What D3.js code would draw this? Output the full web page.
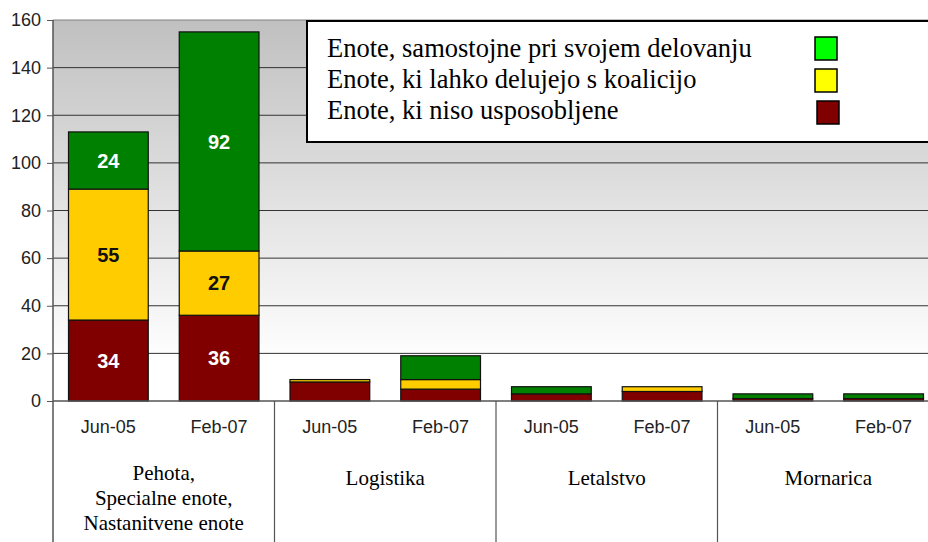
<!DOCTYPE html>
<html>
<head>
<meta charset="utf-8">
<script src="https://cdn.jsdelivr.net/npm/d3@7"></script>
<style>
  body { margin: 0; background: #fff; }
  svg { display: block; }
</style>
</head>
<body>
<div id="chart"></div>
<script>
// data
var groups = ["Pehota,|Specialne enote,|Nastanitvene enote", "Logistika", "Letalstvo", "Mornarica"];
var periods = ["Jun-05", "Feb-07"];
var seriesNames = ["Enote, ki niso usposobljene", "Enote, ki lahko delujejo s koalicijo", "Enote, samostojne pri svojem delovanju"];
// order: group x period
var notReady = [34, 36, 8, 5, 3, 4, 1, 1];
var coalition = [55, 27, 1, 4, 0, 2, 0, 0];
var selfSufficient = [24, 92, 0, 10, 3, 0, 2, 2];
var yTicks = [0, 20, 40, 60, 80, 100, 120, 140, 160];

var barColors = ["#800000", "#ffcc00", "#008000"];
var swatchColors = ["#800000", "#ffff00", "#00ff00"];

var width = 928, height = 542;
var plotLeft = 53, plotRight = 939, plotTop = 20, plotBottom = 401;

var svg = d3.select("#chart").append("svg")
    .attr("width", width)
    .attr("height", height);

var defs = svg.append("defs");
var grad = defs.append("linearGradient")
    .attr("id", "bg")
    .attr("x1", 0).attr("y1", 0).attr("x2", 0).attr("y2", 1);
grad.append("stop").attr("offset", "0%").attr("stop-color", "#c0c0c0");
grad.append("stop").attr("offset", "90%").attr("stop-color", "#ffffff");
grad.append("stop").attr("offset", "100%").attr("stop-color", "#ffffff");

var x0 = d3.scaleBand().domain(groups).range([plotLeft, plotRight]);
var x1 = d3.scaleBand().domain(periods).range([0, x0.bandwidth()])
    .paddingInner(0.28).paddingOuter(0.14);
var y = d3.scaleLinear().domain([0, 160]).range([plotBottom, plotTop]);

// plot background
svg.append("rect")
    .attr("x", plotLeft).attr("y", plotTop)
    .attr("width", plotRight - plotLeft).attr("height", plotBottom - plotTop)
    .attr("fill", "url(#bg)");

// gridlines
svg.append("g")
    .selectAll("line")
    .data(yTicks.slice(1))
    .enter().append("line")
    .attr("x1", plotLeft).attr("x2", plotRight)
    .attr("y1", d => y(d)).attr("y2", d => y(d))
    .attr("stroke", d => d == 160 ? "#808080" : "#333")
    .attr("stroke-width", 1);

// stacked bars
var rows = [];
groups.forEach(function(g, gi) {
    periods.forEach(function(p, pi) {
        var i = gi * 2 + pi;
        rows.push({group: g, period: p, vals: [notReady[i], coalition[i], selfSufficient[i]]});
    });
});

var barG = svg.append("g");
rows.forEach(function(r) {
    var bx = x0(r.group) + x1(r.period);
    var base = 0;
    r.vals.forEach(function(v, si) {
        if (v > 0) {
            barG.append("rect")
                .attr("x", bx)
                .attr("y", y(base + v))
                .attr("width", x1.bandwidth())
                .attr("height", y(base) - y(base + v))
                .attr("fill", barColors[si])
                .attr("stroke", "#111")
                .attr("stroke-width", 1.2);
            if (v >= 20) {
                barG.append("text")
                    .attr("x", bx + x1.bandwidth() / 2)
                    .attr("y", y(base + v / 2))
                    .attr("dy", "0.36em")
                    .attr("text-anchor", "middle")
                    .style("font-family", "Arial, Helvetica, sans-serif")
                    .style("font-weight", "bold")
                    .style("font-size", "20px")
                    .attr("fill", si == 1 ? "#111" : "#fff")
                    .text(v);
            }
        }
        base += v;
    });
});

// x axis line
svg.append("line")
    .attr("x1", plotLeft).attr("x2", plotRight)
    .attr("y1", plotBottom).attr("y2", plotBottom)
    .attr("stroke", "#555").attr("stroke-width", 1.5);

// y axis
var yAxis = svg.append("g")
    .attr("transform", "translate(" + plotLeft + ",0)")
    .call(d3.axisLeft(y).tickValues(yTicks).tickSize(6).tickSizeOuter(0).tickPadding(6));
yAxis.select(".domain").remove();
yAxis.selectAll(".tick line").attr("stroke", "#555");
yAxis.selectAll("text")
    .style("font-family", "Arial, Helvetica, sans-serif")
    .style("font-size", "18px")
    .attr("fill", "#222");

svg.append("line")
    .attr("x1", plotLeft).attr("x2", plotLeft)
    .attr("y1", plotTop).attr("y2", height)
    .attr("stroke", "#555").attr("stroke-width", 1.5);

// group dividers below axis
svg.append("g")
    .selectAll("line")
    .data(groups.slice(1))
    .enter().append("line")
    .attr("x1", d => x0(d)).attr("x2", d => x0(d))
    .attr("y1", plotBottom).attr("y2", height)
    .attr("stroke", "#555").attr("stroke-width", 1.2);

// period labels
rows.forEach(function(r) {
    svg.append("text")
        .attr("x", x0(r.group) + x1(r.period) + x1.bandwidth() / 2)
        .attr("y", 433)
        .attr("text-anchor", "middle")
        .style("font-family", "Arial, Helvetica, sans-serif")
        .style("font-size", "18px")
        .attr("fill", "#222")
        .text(r.period);
});

// group labels
groups.forEach(function(g) {
    var lines = g.split("|");
    var t = svg.append("text")
        .attr("text-anchor", "middle")
        .style("font-family", "'Liberation Serif', 'Times New Roman', serif")
        .style("font-size", "21px")
        .attr("fill", "#000");
    var y0 = lines.length == 1 ? 485 : 480;
    lines.forEach(function(l, li) {
        t.append("tspan")
            .attr("x", x0(g) + x0.bandwidth() / 2)
            .attr("y", y0 + li * 25)
            .text(l);
    });
});

// legend
var lg = svg.append("g");
lg.append("rect")
    .attr("x", 307).attr("y", 21)
    .attr("width", 640).attr("height", 121)
    .attr("fill", "#fff")
    .attr("stroke", "#000").attr("stroke-width", 2);

var legendOrder = [2, 1, 0];
legendOrder.forEach(function(si, k) {
    lg.append("text")
        .attr("x", 327)
        .attr("y", 57 + k * 31)
        .style("font-family", "'Liberation Serif', 'Times New Roman', serif")
        .style("font-size", "26.5px")
        .attr("fill", "#000")
        .text(seriesNames[si]);
    lg.append("rect")
        .attr("x", si == 0 ? 817 : 815)
        .attr("y", 37 + k * 32)
        .attr("width", 22).attr("height", 23)
        .attr("fill", swatchColors[si])
        .attr("stroke", "#000").attr("stroke-width", 1.5);
});
</script>
</body>
</html>
